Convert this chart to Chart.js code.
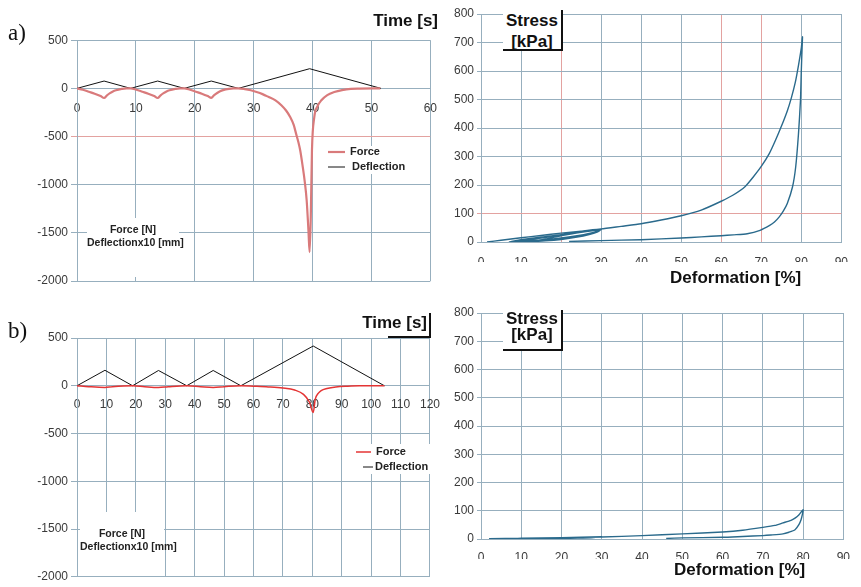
<!DOCTYPE html>
<html>
<head>
<meta charset="utf-8">
<script src="https://cdn.jsdelivr.net/npm/chart.js@4.4.1/dist/chart.umd.min.js"></script>
<style>
  body { margin: 0; background: #fff; width: 861px; height: 587px; position: relative; overflow: hidden;
         font-family: "Liberation Sans", Arial, sans-serif; }
  canvas { position: absolute; }
  #forceA { left: 0px; top: 30px; }
  #stressA { left: 440px; top: 0px; }
  #forceB { left: 0px; top: 310px; }
  #stressB { left: 440px; top: 295px; }
  .txt { position: absolute; white-space: nowrap; color: #111; }
  .panel { font-family: "Liberation Serif", "DejaVu Serif", serif; font-size: 23px; }
  .big { font-weight: bold; font-size: 17px; }
  .box { background: #fff; border-right: 2px solid #111; border-bottom: 2px solid #111; text-align: center; }
  .unit { background: #fff; text-align: center; font-weight: bold; font-size: 10.5px; color: #222; line-height: 13px; }
</style>
</head>
<body>
<canvas id="forceA" width="450" height="262"></canvas>
<canvas id="stressA" width="421" height="290"></canvas>
<canvas id="forceB" width="452" height="277"></canvas>
<canvas id="stressB" width="421" height="292"></canvas>

<div class="txt panel" style="left:8px;top:20px">a)</div>
<div class="txt panel" style="left:8px;top:318px">b)</div>

<div class="txt big" style="right:423px;top:11px">Time [s]</div>
<div class="txt big" style="right:434px;top:313px">Time [s]</div>
<div class="txt" style="left:388px;top:313px;width:41px;height:23px;border-right:2px solid #111;border-bottom:2px solid #111"></div>

<div class="txt big box" style="left:503px;top:10px;width:58px;height:39px;line-height:21px">Stress<br>[kPa]</div>
<div class="txt big box" style="left:503px;top:310px;width:58px;height:38px;line-height:16px;padding-top:1px">Stress<br>[kPa]</div>

<div class="txt big" style="left:670px;top:268px">Deformation [%]</div>
<div class="txt big" style="left:674px;top:560px">Deformation [%]</div>

<div class="txt unit" style="left:87px;top:218px;width:92px;height:59px;padding-top:5px;box-sizing:border-box">Force [N]<br>Deflectionx10 [mm]</div>
<div class="txt unit" style="left:80px;top:512px;width:84px;height:64px;padding-top:15px;box-sizing:border-box">Force [N]<br>Deflectionx10 [mm]</div>

<script>
// ---- a) force / deflection vs time ----
const timeForceA = [0, 1, 2, 3, 4, 4.6, 5.1, 5.6, 6.1, 6.6, 7.6, 8.4, 9.1,
  10.1, 11.1, 12.1, 13.1, 13.7, 14.2, 14.7, 15.2, 15.7, 16.7, 17.5, 18.2,
  19.2, 20.2, 21.2, 22.2, 22.8, 23.3, 23.8, 24.3, 24.8, 25.8, 26.6, 27.4,
  28.5, 29.5, 30.5, 31.5, 32.5, 33.7, 34.7, 35.5, 36.2, 36.8, 37.2, 37.6, 37.9, 38.3, 38.7, 39.0, 39.3, 39.5,
  39.7, 39.9, 40.3, 40.8, 41.5, 42.5, 43.7, 45, 46.5, 48, 51.5];
const forceA = [0, -15, -35, -55, -80, -100, -72, -50, -32, -20, -6, 0, 0,
  -15, -35, -55, -80, -100, -72, -50, -32, -20, -6, 0, 0,
  -15, -35, -55, -80, -98, -70, -48, -30, -18, -5, 0, 0,
  -8, -20, -38, -60, -88, -124, -175, -230, -297, -380, -470, -560, -643, -800, -980, -1162, -1473, -1700,
  -1335, -643, -297, -190, -124, -70, -38, -18, -5, -2, 0];
const timeDeflA = [0, 4.6, 9.1, 13.7, 18.2, 22.8, 27.4, 39.5, 51.6];
const deflA = [0, 76, 0, 76, 0, 76, 0, 204, 0];

// ---- b) force / deflection vs time ----
const timeForceB = [0, 4, 9.5, 12, 18.9, 23, 27.7, 31, 37.3, 42, 46.3, 50, 55.7, 60, 65, 70, 74, 77, 79, 80.3,
  81, 82, 83, 85, 88, 92, 96, 104.5];
const forceB = [0, -10, -18, -10, 0, -10, -18, -10, 0, -10, -18, -10, 0, -5, -12, -24, -45, -90, -170, -280,
  -140, -80, -50, -28, -12, -4, 0, 0];
const timeDeflB = [0, 9.5, 18.9, 27.7, 37.3, 46.3, 55.7, 80.3, 104.5];
const deflB = [0, 162, 0, 160, 0, 160, 0, 416, 0];

// ---- a) stress vs deformation (three loops to 30 %, then to 80 % and back) ----
const deformA = [1.5, 5, 10, 15, 20, 25, 30, 29, 27, 24, 20, 15, 10, 7,
  10, 15, 20, 25, 30, 29, 27, 24, 20, 15, 11, 9,
  12, 16, 20, 25, 30, 29, 27, 24, 20, 16, 12,
  16, 20, 25, 30, 35, 40, 45, 50, 55, 60, 63, 66, 68, 70, 72, 73.5, 75, 76.5, 77.5, 78.5, 79.3, 80, 80.3,
  80.2, 80, 79.8, 79.3, 78.6, 77.8, 76.5, 75.5, 74.5, 73.3, 72.1, 69.7, 66.5, 63, 60, 55, 50, 40, 30, 22];
const stressA = [0, 6, 15, 23, 31, 38, 46, 38, 30, 22, 14, 7, 3, 0,
  8, 17, 26, 35, 44, 36, 28, 20, 12, 6, 2, 0,
  8, 16, 24, 34, 44, 35, 26, 17, 9, 4, 1,
  10, 22, 34, 46, 55, 64, 77, 92, 112, 143, 165, 195, 228, 265, 310, 355, 405, 460, 505, 560, 620, 680, 720,
  680, 600, 498, 380, 263, 193, 135, 108, 88, 70, 58, 41, 29, 25, 22, 18, 14, 8, 5, 2];

// ---- b) stress vs deformation ----
const deformB = [2, 10, 20, 30, 28, 24, 20, 12, 6,
  10, 20, 30, 40, 50, 60, 65, 70, 73, 75, 77, 78, 79, 80,
  79.8, 79.5, 79, 78, 76.5, 75, 72, 70, 65, 60, 50, 46];
const stressB = [1, 3, 5, 8, 5, 3, 2, 1, 0,
  3, 5, 7, 12, 18, 25, 31, 41, 48, 57, 66, 74, 86, 104,
  85, 68, 52, 33, 24, 18, 14, 12, 9, 6, 4, 2];

const GRID = '#97afbe';
const PINK = '#e3a2a0';
const TICK = '#3a3a3a';
Chart.defaults.font.family = '"Liberation Sans", Arial, sans-serif';
Chart.defaults.font.size = 12;
Chart.defaults.color = TICK;

const pts = (xs, ys) => xs.map((x, i) => ({ x: x, y: ys[i] }));
const plain = v => String(v);

// legend drawn inside the plot on a white patch
const boxLegend = {
  id: 'boxLegend',
  afterDatasetsDraw(chart, args, o) {
    if (!o || !o.x) return;
    const ctx = chart.ctx;
    ctx.save();
    ctx.fillStyle = '#fff';
    ctx.fillRect(o.x, o.y, o.w, o.h);
    ctx.font = 'bold 11px "Liberation Sans", Arial, sans-serif';
    ctx.textBaseline = 'middle';
    chart.data.datasets.forEach((ds, i) => {
      const y = o.y + o.top + i * o.row;
      ctx.strokeStyle = ds.borderColor;
      ctx.lineWidth = ds.borderWidth;
      ctx.beginPath();
      ctx.moveTo(o.lx[i][0], y);
      ctx.lineTo(o.lx[i][1], y);
      ctx.stroke();
      ctx.fillStyle = '#222';
      ctx.fillText(ds.label, o.tx[i], y);
    });
    ctx.restore();
  }
};

function gridColor(pinks) {
  return c => (c.tick && pinks.includes(c.tick.value)) ? PINK : GRID;
}

function timeChart(id, forceT, force, deflT, defl, forceColor, forceWidth, xMax, pad, xLabelPad, legend, pinkY) {
  return new Chart(document.getElementById(id), {
    type: 'scatter',
    data: {
      datasets: [
        { label: 'Force', data: pts(forceT, force), showLine: true, borderColor: forceColor,
          borderWidth: forceWidth, pointRadius: 0, cubicInterpolationMode: 'monotone' },
        { label: 'Deflection', data: pts(deflT, defl), showLine: true, borderColor: '#111',
          borderWidth: 1, pointRadius: 0, tension: 0 }
      ]
    },
    options: {
      responsive: false,
      animation: false,
      layout: { padding: pad },
      plugins: { legend: { display: false }, tooltip: { enabled: false }, boxLegend: legend },
      scales: {
        x: {
          type: 'linear', min: 0, max: xMax, position: { y: 0 },
          ticks: { stepSize: 10, padding: xLabelPad, maxRotation: 0, callback: plain },
          grid: { color: GRID, drawTicks: false },
          border: { color: GRID }
        },
        y: {
          type: 'linear', min: -2000, max: 500,
          ticks: { stepSize: 500, padding: 3, callback: plain },
          grid: { color: gridColor(pinkY), tickLength: 6 },
          border: { color: GRID },
          afterFit: s => { s.width = 77; }
        }
      }
    },
    plugins: [boxLegend]
  });
}

function stressChart(id, deform, stress, pad, xLabelPad, pinkX, pinkY) {
  return new Chart(document.getElementById(id), {
    type: 'scatter',
    data: {
      datasets: [
        { label: 'Stress', data: pts(deform, stress), showLine: true, borderColor: '#2a6a8c',
          borderWidth: 1.4, pointRadius: 0, tension: 0.2 }
      ]
    },
    options: {
      responsive: false,
      animation: false,
      layout: { padding: pad },
      plugins: { legend: { display: false }, tooltip: { enabled: false } },
      scales: {
        x: {
          type: 'linear', min: 0, max: 90,
          ticks: { stepSize: 10, padding: xLabelPad, maxRotation: 0, callback: plain },
          grid: { color: gridColor(pinkX), drawTicks: false },
          border: { color: GRID },
          afterFit: s => { s.height = 20; }
        },
        y: {
          type: 'linear', min: 0, max: 800,
          ticks: { stepSize: 100, padding: 3, callback: plain },
          grid: { color: gridColor(pinkY), tickLength: 4 },
          border: { color: GRID },
          afterFit: s => { s.width = 41; }
        }
      }
    }
  });
}

timeChart('forceA', timeForceA, forceA, timeDeflA, deflA, '#d97a7b', 2.2, 60,
  { top: 10, right: 12, bottom: 11, left: 0 }, 13,
  { x: 325, y: 116, w: 85, h: 28, top: 6, row: 15, lx: [[328, 345], [328, 345]], tx: [350, 352] }, [-500]);

timeChart('forceB', timeForceB, forceB, timeDeflB, deflB, '#e43434', 1.5, 120,
  { top: 28, right: 12, bottom: 8, left: 0 }, 12,
  { x: 354, y: 134, w: 78, h: 30, top: 8, row: 15, lx: [[356, 371], [363, 373]], tx: [376, 375] }, []);

stressChart('stressA', deformA, stressA, { top: 14, right: 7, bottom: 28, left: 0 }, 13, [20, 60, 70], [100]);
stressChart('stressB', deformB, stressB, { top: 18, right: 6, bottom: 28, left: 0 }, 11, [], []);
</script>
</body>
</html>
